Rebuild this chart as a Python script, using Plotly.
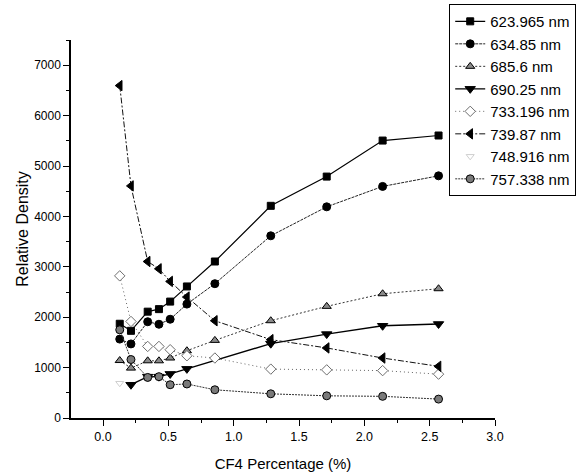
import plotly.graph_objects as go

# CF4 admixture (%) and relative density of each emission line
cf4_pct = [0.128, 0.214, 0.342, 0.428, 0.514, 0.642, 0.856, 1.284, 1.712, 2.14, 2.568]

line_623_965 = [1870, 1730, 2110, 2160, 2310, 2610, 3105, 4210, 4790, 5505, 5605]
line_634_85 = [1565, 1470, 1910, 1860, 1960, 2260, 2665, 3615, 4190, 4595, 4805]
line_685_6 = [1140, 990, 1135, 1135, 1190, 1335, 1540, 1930, 2215, 2465, 2565]
line_690_25 = [None, 660, 820, 820, 875, 975, None, 1475, 1665, 1830, 1865]
line_733_196 = [2820, 1915, 1420, 1420, 1355, 1235, 1190, 970, 955, 940, 870]
line_739_87 = [6595, 4605, 3105, 2960, 2710, 2400, 1930, 1555, 1390, 1190, 1025]
line_748_916 = [690, None, None, None, None, None, None, None, None, None, None]
line_757_338 = [1750, 1160, 805, 820, 660, 675, 560, 480, 440, 430, 375]

series_names = ["623.965 nm", "634.85 nm", "685.6 nm", "690.25 nm",
                "733.196 nm", "739.87 nm", "748.916 nm", "757.338 nm"]

FONT = "Liberation Sans, Arial, sans-serif"

fig = go.Figure()


def add_series(name, values, symbol, size, fill, outline, dash, line_color, mode="lines+markers", width=1):
    fig.add_trace(go.Scatter(
        x=cf4_pct, y=values, name=name, mode=mode,
        connectgaps=True,
        line=dict(color=line_color, width=width, dash=dash),
        marker=dict(symbol=symbol, size=size, color=fill,
                    line=dict(color=outline, width=1)),
    ))


add_series(series_names[0], line_623_965, "square", 7, "black", "black", "solid", "black", width=1.2)
add_series(series_names[1], line_634_85, "circle", 8, "black", "black", "3px,1px", "#222222")
add_series(series_names[2], line_685_6, "triangle-up", 8, "#8a8a8a", "black", "2px,2px", "#333333")
add_series(series_names[3], line_690_25, "triangle-down", 9, "black", "black", "solid", "black", width=1.4)
add_series(series_names[4], line_733_196, "diamond", 8, "white", "#6e6e6e", "1px,3px", "#666666")
add_series(series_names[5], line_739_87, "triangle-left", 9, "black", "black", "6px,2px,2px,2px", "#111111")
add_series(series_names[6], line_748_916, "triangle-down-open", 7, "#cfcfcf", "#cfcfcf", "solid", "#e6e6e6", mode="markers")
add_series(series_names[7], line_757_338, "circle", 8, "#7a7a7a", "black", "2px,1px", "#333333")

fig.update_layout(
    width=579, height=476,
    margin=dict(l=71, r=84, t=40, b=58, autoexpand=False),
    paper_bgcolor="white", plot_bgcolor="white",
    font=dict(family=FONT, color="black", size=12),
    showlegend=True,
    legend=dict(
        x=0.892, y=1.095, xanchor="left", yanchor="top",
        bordercolor="black", borderwidth=1, bgcolor="white",
        font=dict(family=FONT, size=15, color="black"),
        itemwidth=30, tracegroupgap=0,
    ),
)

fig.update_xaxes(
    range=[-0.245, 3.0],
    tickvals=[0.0, 0.5, 1.0, 1.5, 2.0, 2.5, 3.0],
    ticktext=["0.0", "0.5", "1.0", "1.5", "2.0", "2.5", "3.0"],
    ticks="outside", ticklen=6, tickwidth=1.3, tickcolor="black",
    minor=dict(ticks="outside", ticklen=3, tickwidth=1, tickcolor="black",
               tickvals=[0.25, 0.75, 1.25, 1.75, 2.25, 2.75]),
    showline=True, linecolor="black", linewidth=1.5,
    showgrid=False, zeroline=False,
    tickfont=dict(family=FONT, size=12.5),
    title=dict(text="CF4 Percentage (%)", font=dict(family=FONT, size=15), standoff=16),
)

fig.update_yaxes(
    range=[0, 7500],
    tickvals=[0, 1000, 2000, 3000, 4000, 5000, 6000, 7000],
    ticks="outside", ticklen=6, tickwidth=1.3, tickcolor="black",
    minor=dict(ticks="outside", ticklen=3, tickwidth=1, tickcolor="black",
               tickvals=[500, 1500, 2500, 3500, 4500, 5500, 6500, 7500]),
    showline=True, linecolor="black", linewidth=1.5,
    showgrid=False, zeroline=False,
    tickfont=dict(family=FONT, size=12),
    title=dict(text="Relative Density", font=dict(family=FONT, size=16), standoff=2),
)

fig.write_html("out.html")
